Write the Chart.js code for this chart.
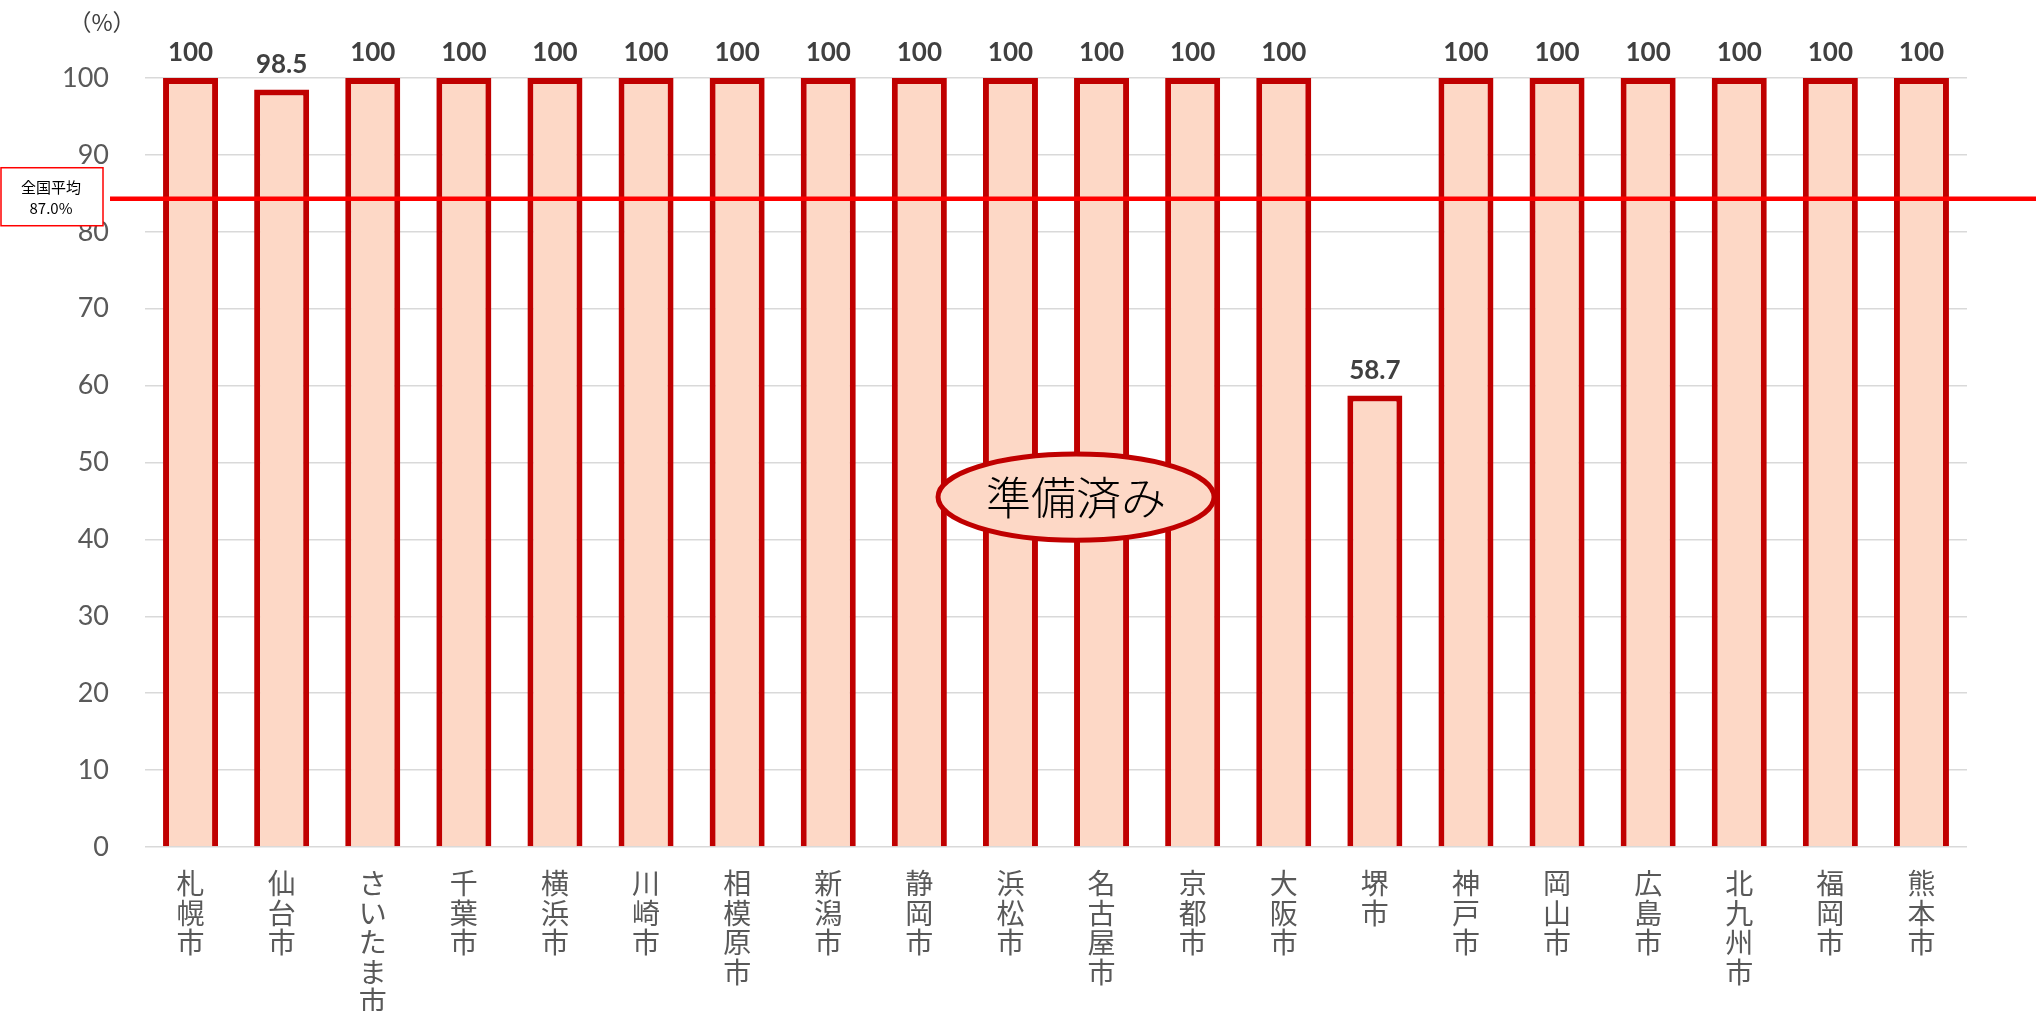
<!DOCTYPE html>
<html>
<head>
<meta charset="utf-8">
<script src="https://cdn.jsdelivr.net/npm/chart.js@4"></script>
<style>
  body { margin: 0; background: #fff; }
</style>
</head>
<body>
<canvas id="myChart" width="2036" height="1011"></canvas>
<script>
// データ
var cities = ["札幌市", "仙台市", "さいたま市", "千葉市", "横浜市", "川崎市", "相模原市", "新潟市", "静岡市", "浜松市",
              "名古屋市", "京都市", "大阪市", "堺市", "神戸市", "岡山市", "広島市", "北九州市", "福岡市", "熊本市"];
var rates = [100, 98.5, 100, 100, 100, 100, 100, 100, 100, 100,
             100, 100, 100, 58.7, 100, 100, 100, 100, 100, 100];
var yTicks = [0, 10, 20, 30, 40, 50, 60, 70, 80, 90, 100];
var avgLineValue = 84.3;      // 線の位置
var avgLabel = ["全国平均", "87.0%"];
var noteText = "準備済み";
var notePos = { x: 9.72, y: 45.5 };  // カテゴリ番号, 値

var FONT = "Lato, 'Noto Sans CJK JP', sans-serif";
var JFONT = "'Noto Sans CJK JP', sans-serif";

// 全国平均線・注記・数値ラベル
var extras = {
  id: 'extras',
  afterDatasetsDraw: function(chart) {
    var ctx = chart.ctx;
    var xs = chart.scales.x, ys = chart.scales.y;
    ctx.save();

    // 全国平均の線
    var ay = ys.getPixelForValue(avgLineValue);
    ctx.strokeStyle = '#FF0000';
    ctx.lineWidth = 4.5;
    ctx.beginPath();
    ctx.moveTo(110, ay);
    ctx.lineTo(chart.width, ay);
    ctx.stroke();

    // 全国平均ラベル
    ctx.fillStyle = '#fff';
    ctx.fillRect(1, ay - 31, 102, 58);
    ctx.strokeStyle = '#FF0000';
    ctx.lineWidth = 1.5;
    ctx.strokeRect(1, ay - 31, 102, 58);
    ctx.fillStyle = '#000';
    ctx.font = "15px " + JFONT;
    ctx.textAlign = 'center';
    ctx.textBaseline = 'middle';
    ctx.fillText(avgLabel[0], 51, ay - 11);
    ctx.fillText(avgLabel[1], 51, ay + 10);

    // 準備済み
    var step = xs.getPixelForValue(1) - xs.getPixelForValue(0);
    var cx = xs.getPixelForValue(0) + step * notePos.x;
    var cy = ys.getPixelForValue(notePos.y);
    var rx = step * 1.515;
    var ry = ys.getPixelForValue(0) - ys.getPixelForValue(5.6);
    ctx.beginPath();
    ctx.ellipse(cx, cy, rx, ry, 0, 0, Math.PI * 2);
    ctx.fillStyle = '#FDD8C6';
    ctx.fill();
    ctx.strokeStyle = '#C00000';
    ctx.lineWidth = 5;
    ctx.stroke();
    ctx.fillStyle = '#000';
    ctx.font = "300 45px " + JFONT;
    ctx.fillText(noteText, cx, cy + 1);

    // 数値ラベル
    var meta = chart.getDatasetMeta(0);
    ctx.font = "bold 26px " + FONT;
    ctx.fillStyle = '#404040';
    ctx.textBaseline = 'bottom';
    meta.data.forEach(function(bar, i) {
      ctx.fillText(String(rates[i]), bar.x, bar.y - 12);
    });

    // 単位
    ctx.fillStyle = '#404040';
    ctx.font = "23px " + JFONT;
    ctx.textBaseline = 'middle';
    ctx.fillText("（%）", 102, 22);
    ctx.restore();
  }
};

var ctx = document.getElementById("myChart").getContext("2d");
var myChart = new Chart(ctx, {
  type: 'bar',
  data: {
    labels: cities,
    datasets: [{
      data: rates,
      backgroundColor: '#FDD8C6',
      borderColor: '#C00000',
      borderWidth: 6,
      categoryPercentage: 1.0,
      barPercentage: 0.604
    }]
  },
  options: {
    responsive: false,
    animation: false,
    layout: { padding: { top: 78, right: 69, left: 0, bottom: 0 } },
    plugins: { legend: { display: false }, tooltip: { enabled: false } },
    scales: {
      x: {
        grid: { display: false },
        border: { display: false },
        afterFit: function(scale) { scale.height = 164; },
        ticks: {
          autoSkip: false,
          maxRotation: 0,
          minRotation: 0,
          padding: 14,
          color: '#595959',
          font: { family: JFONT, size: 28, lineHeight: 1.05 },
          callback: function(value) {
            return this.getLabelForValue(value).split('');
          }
        }
      },
      y: {
        min: 0,
        max: 100,
        afterFit: function(scale) { scale.width = 145; },
        afterBuildTicks: function(scale) {
          scale.ticks = yTicks.map(function(v) { return { value: v }; });
        },
        grid: { color: '#D9D9D9', lineWidth: 1.5, drawTicks: false },
        border: { display: false },
        ticks: {
          padding: 36,
          color: '#595959',
          font: { family: FONT, size: 27 }
        }
      }
    }
  },
  plugins: [extras]
});
</script>
</body>
</html>
